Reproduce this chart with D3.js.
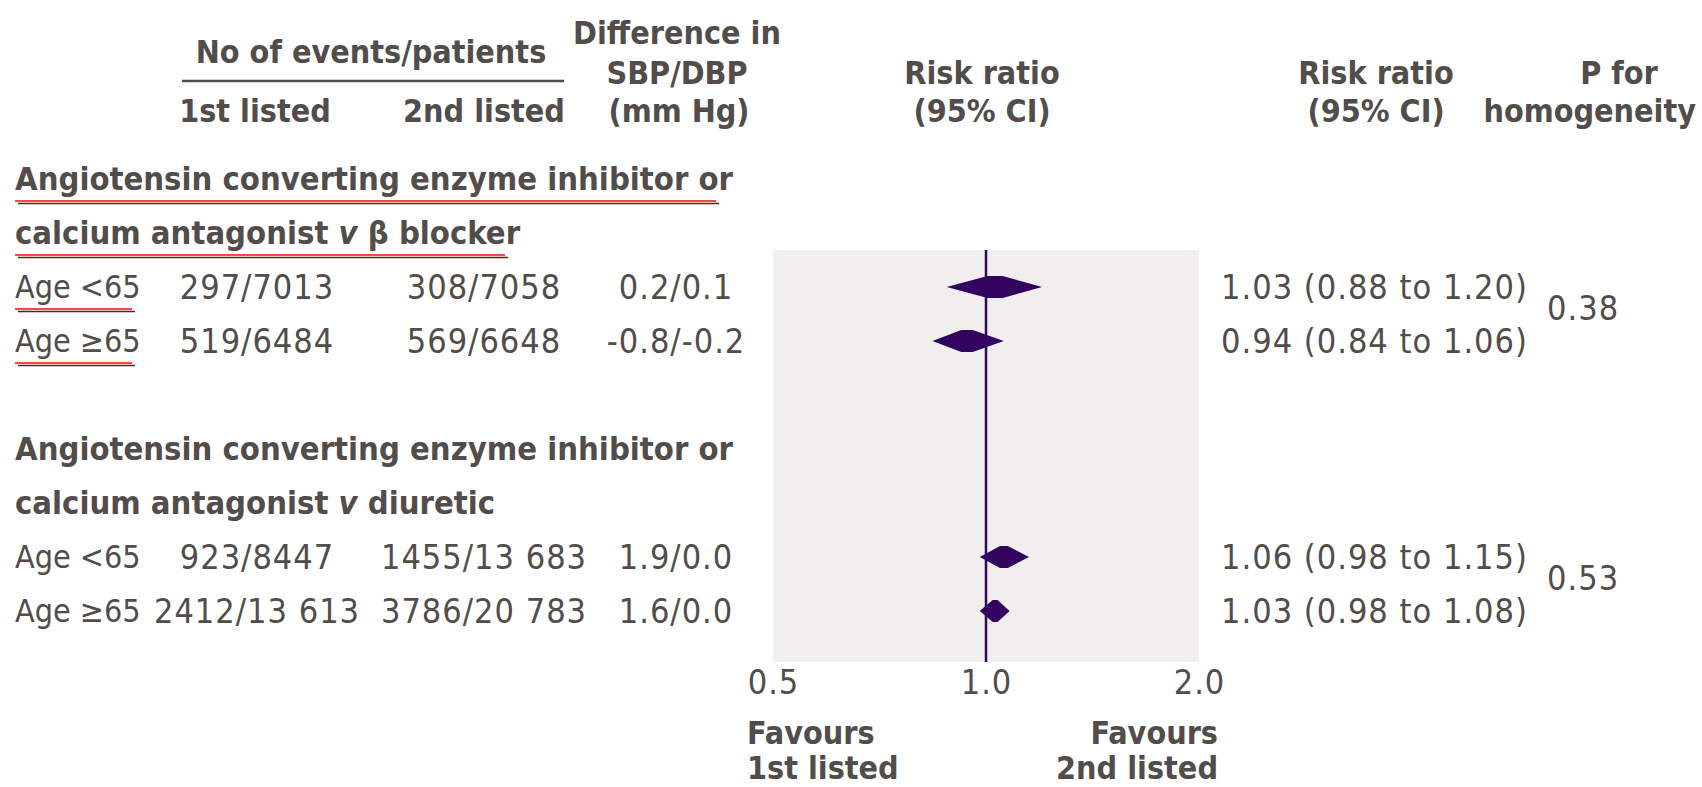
<!DOCTYPE html>
<html>
<head>
<meta charset="utf-8">
<script src="https://cdn.jsdelivr.net/npm/d3@7"></script>
<style>
body { margin: 0; background: #fff; }
text { font-family: "DejaVu Sans Condensed", "Liberation Sans Narrow", sans-serif; fill: #524c4a; }
.hd { font-weight: bold; font-size: 32px; }
.title { font-weight: bold; font-size: 32.5px; }
.lbl { font-size: 32px; }
.num { font-size: 34px; letter-spacing: 1px; }
</style>
</head>
<body>
<svg id="chart" width="1702" height="787"></svg>
<script>
// group headings (two lines each, "v" in italics)
const groupLine1 = ["Angiotensin converting enzyme inhibitor or", "Angiotensin converting enzyme inhibitor or"];
const groupLine2 = [["calcium antagonist ", "v", " β blocker"], ["calcium antagonist ", "v", " diuretic"]];

// one entry per subgroup row
const subgroups    = ["Age <65", "Age ≥65", "Age <65", "Age ≥65"];
const rowGroup     = [0, 0, 1, 1];
const firstListed  = ["297/7013", "519/6484", "923/8447", "2412/13 613"];
const secondListed = ["308/7058", "569/6648", "1455/13 683", "3786/20 783"];
const bpDiff       = ["0.2/0.1", "-0.8/-0.2", "1.9/0.0", "1.6/0.0"];
const riskRatio    = [1.03, 0.94, 1.06, 1.03];
const ciLow        = [0.88, 0.84, 0.98, 0.98];
const ciHigh       = [1.20, 1.06, 1.15, 1.08];
const pHomogeneity = ["0.38", "0.53"];
const xTicks       = [0.5, 1.0, 2.0];

const svg = d3.select("#chart");

// vertical layout: 9 line slots (title, title, row, row, gap, title, title, row, row)
const slot = d3.scaleLinear().domain([0, 8]).range([179, 611]);
const titleSlots = [[0, 1], [5, 6]];
const rowSlots = [2, 3, 7, 8];

const x = d3.scaleLog().domain([0.5, 2]).range([773, 1199]);
const plotTop = 250, plotBottom = 662;

// shaded plot area + line of no effect
svg.append("rect")
    .attr("x", x(0.5)).attr("y", plotTop)
    .attr("width", x(2) - x(0.5)).attr("height", plotBottom - plotTop)
    .attr("fill", "#f0efee");

svg.append("line")
    .attr("x1", x(1)).attr("x2", x(1))
    .attr("y1", plotTop).attr("y2", plotBottom)
    .attr("stroke", "#2e0a5c").attr("stroke-width", 2.5);

// column headers
const hd = (txt, cx, cy, anchor = "middle") =>
    svg.append("text").attr("class", "hd")
        .attr("x", cx).attr("y", cy).attr("dy", "0.35em")
        .attr("text-anchor", anchor).text(txt);

hd("No of events/patients", 371, 52);
svg.append("line").attr("x1", 182).attr("x2", 564).attr("y1", 81).attr("y2", 81)
    .attr("stroke", "#524c4a").attr("stroke-width", 2.5);
hd("1st listed", 255, 111);
hd("2nd listed", 484, 111);
hd("Difference in", 677, 33);
hd("SBP/DBP", 677, 73);
hd("(mm Hg)", 679, 111);
hd("Risk ratio", 982, 73);
hd("(95% CI)", 982, 111);
hd("Risk ratio", 1376, 73);
hd("(95% CI)", 1376, 111);
hd("P for", 1619, 73);
hd("homogeneity", 1696, 111, "end");

// spell-check style double underline seen in the source image
const squiggle = (x1, x2, yy) => {
    svg.append("line").attr("x1", x1).attr("x2", x2).attr("y1", yy).attr("y2", yy)
        .attr("stroke", "#f24a4a").attr("stroke-width", 2);
    svg.append("line").attr("x1", x1 + 3).attr("x2", x2 + 3).attr("y1", yy + 2.5).attr("y2", yy + 2.5)
        .attr("stroke", "#7a1414").attr("stroke-width", 1.5);
};

// group titles
groupLine1.forEach((t, g) => {
    svg.append("text").attr("class", "title")
        .attr("x", 15).attr("y", slot(titleSlots[g][0])).attr("dy", "0.35em")
        .text(t);
    const t2 = svg.append("text").attr("class", "title")
        .attr("x", 15).attr("y", slot(titleSlots[g][1])).attr("dy", "0.35em");
    groupLine2[g].forEach((part, i) => {
        t2.append("tspan").attr("font-style", i === 1 ? "italic" : null).text(part);
    });
});
squiggle(15, 716, slot(0) + 22);
squiggle(15, 505, slot(1) + 22);

// subgroup rows
subgroups.forEach((s, i) => {
    const cy = slot(rowSlots[i]);
    svg.append("text").attr("class", "lbl").attr("x", 15).attr("y", cy).attr("dy", "0.35em").text(s);
    svg.append("text").attr("class", "num").attr("x", 257).attr("y", cy).attr("dy", "0.35em")
        .attr("text-anchor", "middle").text(firstListed[i]);
    svg.append("text").attr("class", "num").attr("x", 484).attr("y", cy).attr("dy", "0.35em")
        .attr("text-anchor", "middle").text(secondListed[i]);
    svg.append("text").attr("class", "num").attr("x", 676).attr("y", cy).attr("dy", "0.35em")
        .attr("text-anchor", "middle").text(bpDiff[i]);
    svg.append("text").attr("class", "num").attr("x", 1221).attr("y", cy).attr("dy", "0.35em")
        .text(`${riskRatio[i].toFixed(2)} (${ciLow[i].toFixed(2)} to ${ciHigh[i].toFixed(2)})`);
});
squiggle(15, 132, slot(rowSlots[0]) + 22);
squiggle(15, 132, slot(rowSlots[1]) + 22);

// diamonds spanning the CI, slightly blunted at the top
const h = 11;
svg.selectAll("path.est")
    .data(riskRatio)
    .enter().append("path")
    .attr("class", "est")
    .attr("fill", "#33045f")
    .attr("d", (d, i) => {
        const cy = slot(rowSlots[i]);
        const lo = x(ciLow[i]), hi = x(ciHigh[i]), m = x(d);
        const w = (hi - lo) * 0.08;
        return `M${lo},${cy}L${m - w},${cy - h}L${m + w},${cy - h}L${hi},${cy}L${m + w},${cy + h}L${m - w},${cy + h}Z`;
    });

// P for homogeneity, a little above the middle of each group's two rows
pHomogeneity.forEach((p, g) => {
    const rows = rowSlots.filter((_, i) => rowGroup[i] === g);
    svg.append("text").attr("class", "num").attr("x", 1547)
        .attr("y", (slot(rows[0]) + slot(rows[1])) / 2 - 6).attr("dy", "0.35em").text(p);
});

// x axis
const axis = svg.append("g")
    .attr("transform", `translate(0,${plotBottom})`)
    .call(d3.axisBottom(x).tickValues(xTicks).tickSize(0).tickPadding(8).tickFormat(d3.format(".1f")));
axis.select(".domain").remove();
axis.selectAll("text").attr("class", "num").attr("font-family", null).attr("font-size", null).attr("fill", null);

// favours labels
svg.append("text").attr("class", "hd").attr("x", 747).attr("y", 733).attr("dy", "0.35em").text("Favours");
svg.append("text").attr("class", "hd").attr("x", 747).attr("y", 768).attr("dy", "0.35em").text("1st listed");
svg.append("text").attr("class", "hd").attr("x", 1218).attr("y", 733).attr("dy", "0.35em")
    .attr("text-anchor", "end").text("Favours");
svg.append("text").attr("class", "hd").attr("x", 1218).attr("y", 768).attr("dy", "0.35em")
    .attr("text-anchor", "end").text("2nd listed");
</script>
</body>
</html>
